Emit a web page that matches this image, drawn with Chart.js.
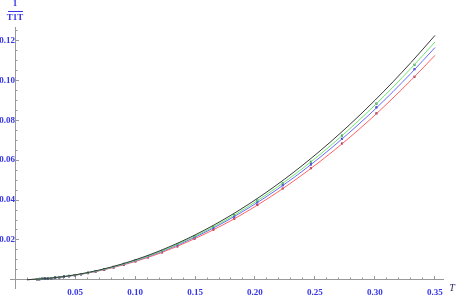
<!DOCTYPE html>
<html>
<head>
<meta charset="utf-8">
<script src="https://cdn.jsdelivr.net/npm/chart.js@4"></script>
<style>
  html, body { margin: 0; padding: 0; background: #fff; }
  #wrap { width: 457px; height: 300px; }
</style>
</head>
<body>
<div id="wrap"><canvas id="chart" width="457" height="300"></canvas></div>
<script>
// temperatures of the measured points
const tPoints = [0.0183, 0.0202, 0.0224, 0.0247, 0.0273, 0.0302, 0.0334, 0.0369, 0.0408, 0.0450,
                 0.0498, 0.0550, 0.0608, 0.0672, 0.0743, 0.0821, 0.0907, 0.1003, 0.1108, 0.1225,
                 0.1353, 0.1496, 0.1653, 0.1827, 0.2019, 0.2231, 0.2466, 0.2725, 0.3012, 0.3329];

// measured 1/T1T values (points)
const greenPts = [0.0003, 0.0004, 0.0005, 0.0006, 0.0007, 0.0009, 0.0011, 0.0013, 0.0016, 0.0020,
                  0.0024, 0.0029, 0.0036, 0.0044, 0.0054, 0.0066, 0.0080, 0.0098, 0.0119, 0.0146,
                  0.0178, 0.0218, 0.0266, 0.0325, 0.0397, 0.0484, 0.0592, 0.0723, 0.0883, 0.1078];
const bluePts = [0.0003, 0.0004, 0.0005, 0.0006, 0.0007, 0.0009, 0.0011, 0.0013, 0.0016, 0.0019,
                 0.0024, 0.0029, 0.0035, 0.0043, 0.0053, 0.0064, 0.0078, 0.0096, 0.0117, 0.0143,
                 0.0174, 0.0213, 0.0260, 0.0318, 0.0388, 0.0474, 0.0579, 0.0707, 0.0864, 0.1055];
const redPts = [0.0003, 0.0004, 0.0005, 0.0006, 0.0007, 0.0008, 0.0010, 0.0012, 0.0015, 0.0019,
                0.0023, 0.0028, 0.0034, 0.0042, 0.0051, 0.0062, 0.0076, 0.0092, 0.0113, 0.0138,
                0.0168, 0.0206, 0.0251, 0.0307, 0.0375, 0.0458, 0.0559, 0.0683, 0.0834, 0.1018];

// fitted curves
const tCurve = [0.01, 0.02, 0.04, 0.06, 0.08, 0.10, 0.12, 0.15, 0.18, 0.21, 0.24, 0.27, 0.30, 0.33, 0.35];
const blackCurve = [0.0001, 0.0004, 0.0016, 0.0036, 0.0064, 0.0100, 0.0144, 0.0225, 0.0324, 0.0441, 0.0576, 0.0729, 0.0900, 0.1089, 0.1225];
const greenCurve = [0.0001, 0.0004, 0.0016, 0.0035, 0.0062, 0.0097, 0.0140, 0.0219, 0.0315, 0.0429, 0.0560, 0.0709, 0.0876, 0.1060, 0.1192];
const blueCurve  = [0.0001, 0.0004, 0.0015, 0.0034, 0.0061, 0.0095, 0.0137, 0.0214, 0.0308, 0.0419, 0.0547, 0.0693, 0.0855, 0.1035, 0.1164];
const redCurve   = [0.0001, 0.0004, 0.0015, 0.0033, 0.0059, 0.0092, 0.0132, 0.0207, 0.0297, 0.0405, 0.0529, 0.0669, 0.0826, 0.1000, 0.1125];

const xLabel = 'T';
const yLabelTop = '1';
const yLabelBottom = 'T1T';

const labelBlue = '#3434e8';
const axisGray = '#999999';
const tickFont = { family: 'Liberation Serif', size: 9, weight: 'bold' };

function curve(ts, ys, color) {
    return {
        data: ts.map((t, i) => ({ x: t, y: ys[i] })),
        showLine: true,
        borderColor: color,
        borderWidth: 1,
        pointRadius: 0,
        cubicInterpolationMode: 'monotone',
        fill: false
    };
}

function points(ts, ys, color) {
    return {
        data: ts.map((t, i) => ({ x: t, y: ys[i] })),
        showLine: false,
        pointStyle: 'rect',
        pointRadius: 1.5,
        pointBackgroundColor: color,
        pointBorderColor: color,
        pointBorderWidth: 0
    };
}

// axis titles drawn on top
const axisTitles = {
    id: 'axisTitles',
    afterDraw(chart) {
        const ctx = chart.ctx;
        ctx.save();
        ctx.fillStyle = labelBlue;
        ctx.font = 'bold 9px "Liberation Serif"';
        ctx.textAlign = 'center';
        ctx.textBaseline = 'middle';
        ctx.fillText(yLabelTop, 15, 4);
        ctx.fillRect(8, 11, 15, 1);
        ctx.fillText(yLabelBottom, 15, 18);
        ctx.fillStyle = '#2a2a66';
        ctx.font = 'italic 10px "Liberation Serif"';
        ctx.fillText(xLabel, 452, 288);
        ctx.restore();
    }
};

const xMin = -0.00417, xMax = 0.35667;
const yMin = -0.00437, yMax = 0.1267;

function axisScale(axis, step, tl, major) {
    return {
        type: 'linear',
        min: axis === 'x' ? xMin : yMin,
        max: axis === 'x' ? xMax : yMax,
        position: axis === 'x' ? { y: 0 } : { x: 0 },
        border: { display: major, color: axisGray, width: 1 },
        grid: { drawOnChartArea: false, drawTicks: true, tickLength: tl, tickColor: axisGray },
        ticks: {
            stepSize: step,
            includeBounds: false,
            autoSkip: false,
            maxRotation: 0,
            display: major,
            color: labelBlue,
            font: tickFont,
            padding: axis === 'x' ? 11 : 6,
            callback: v => (Math.abs(v) < 1e-9 ? '' : v.toFixed(2))
        }
    };
}

new Chart(document.getElementById('chart'), {
    type: 'scatter',
    data: {
        datasets: [
            curve(tCurve, blackCurve, '#3a3a3a'),
            curve(tCurve, greenCurve, '#6ae86a'),
            curve(tCurve, blueCurve, '#6a6aff'),
            curve(tCurve, redCurve, '#ff6262'),
            points(tPoints, greenPts, '#2e7a5e'),
            points(tPoints, bluePts, '#2626a8'),
            points(tPoints, redPts, '#7e2450')
        ]
    },
    options: {
        responsive: false,
        animation: false,
        layout: { padding: { left: 10, right: 14, top: 27, bottom: 3 } },
        plugins: { legend: { display: false }, tooltip: { enabled: false } },
        scales: {
            x: axisScale('x', 0.05, -4, true),
            y: axisScale('y', 0.02, -4, true),
            x2: axisScale('x', 0.01, -2.5, false),
            y2: axisScale('y', 0.005, -2.5, false)
        }
    },
    plugins: [axisTitles]
});
</script>
</body>
</html>
